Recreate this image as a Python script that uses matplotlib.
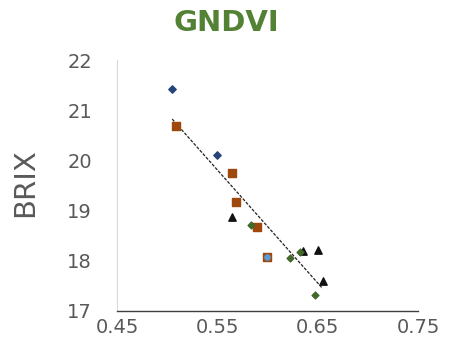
import numpy as np
import matplotlib
matplotlib.use('Agg')
import matplotlib.pyplot as plt

# valores (GNDVI vs BRIX)
navy_x = [0.505, 0.550]
navy_y = [21.42, 20.11]
orange_x = [0.509, 0.565, 0.569, 0.590, 0.600]
orange_y = [20.68, 19.75, 19.17, 18.67, 18.08]
black_x = [0.565, 0.635, 0.650, 0.655]
black_y = [18.87, 18.20, 18.21, 17.60]
green_x = [0.584, 0.622, 0.632, 0.647]
green_y = [18.71, 18.06, 18.17, 17.32]
blue_x = [0.600]
blue_y = [18.08]

x_ticks = [0.45, 0.55, 0.65, 0.75]
y_ticks = [17, 18, 19, 20, 21, 22]

fig = plt.figure(figsize=(4.63, 3.52), dpi=100)
ax = fig.add_axes([0.2527, 0.1165, 0.6501, 0.713])

ax.scatter(navy_x, navy_y, marker='D', s=14, color='#264478', zorder=3)
ax.scatter(orange_x, orange_y, marker='s', s=30, color='#9E480E', zorder=3)
ax.scatter(black_x, black_y, marker='^', s=28, color='#111111', zorder=3)
ax.scatter(green_x, green_y, marker='D', s=12, color='#43682B', zorder=3)
ax.scatter(blue_x, blue_y, marker='o', s=14, color='#5B9BD5', zorder=4)

# linea de tendencia
all_x = np.array(navy_x + orange_x + black_x + green_x)
all_y = np.array(navy_y + orange_y + black_y + green_y)
m, b = np.polyfit(all_x, all_y, 1)
xs = np.array([all_x.min(), all_x.max()])
ax.plot(xs, m * xs + b, color='#222222', lw=0.9, ls=(0, (2.5, 1.2)), zorder=2)

ax.set_xlim(0.45, 0.75)
ax.set_ylim(17, 22)
ax.set_xticks(x_ticks)
ax.set_xticklabels([f'{t:.2f}' for t in x_ticks])
ax.set_yticks(y_ticks)
ax.tick_params(axis='both', length=0, labelsize=14, labelcolor='#595959')
ax.tick_params(axis='x', pad=5)
ax.tick_params(axis='y', pad=18)

for s in ['top', 'right']:
    ax.spines[s].set_visible(False)
ax.spines['bottom'].set_color('#404040')
ax.spines['bottom'].set_linewidth(1.0)
ax.spines['left'].set_color('#D9D9D9')
ax.spines['left'].set_linewidth(0.8)

ax.set_ylabel('BRIX', fontsize=21, color='#595959')
ax.yaxis.set_label_coords(-0.258, 0.51)

fig.text(0.49, 0.935, 'GNDVI', fontsize=21, fontweight='bold', color='#548235',
         ha='center', va='center')

fig.savefig('out.png', dpi=100)
